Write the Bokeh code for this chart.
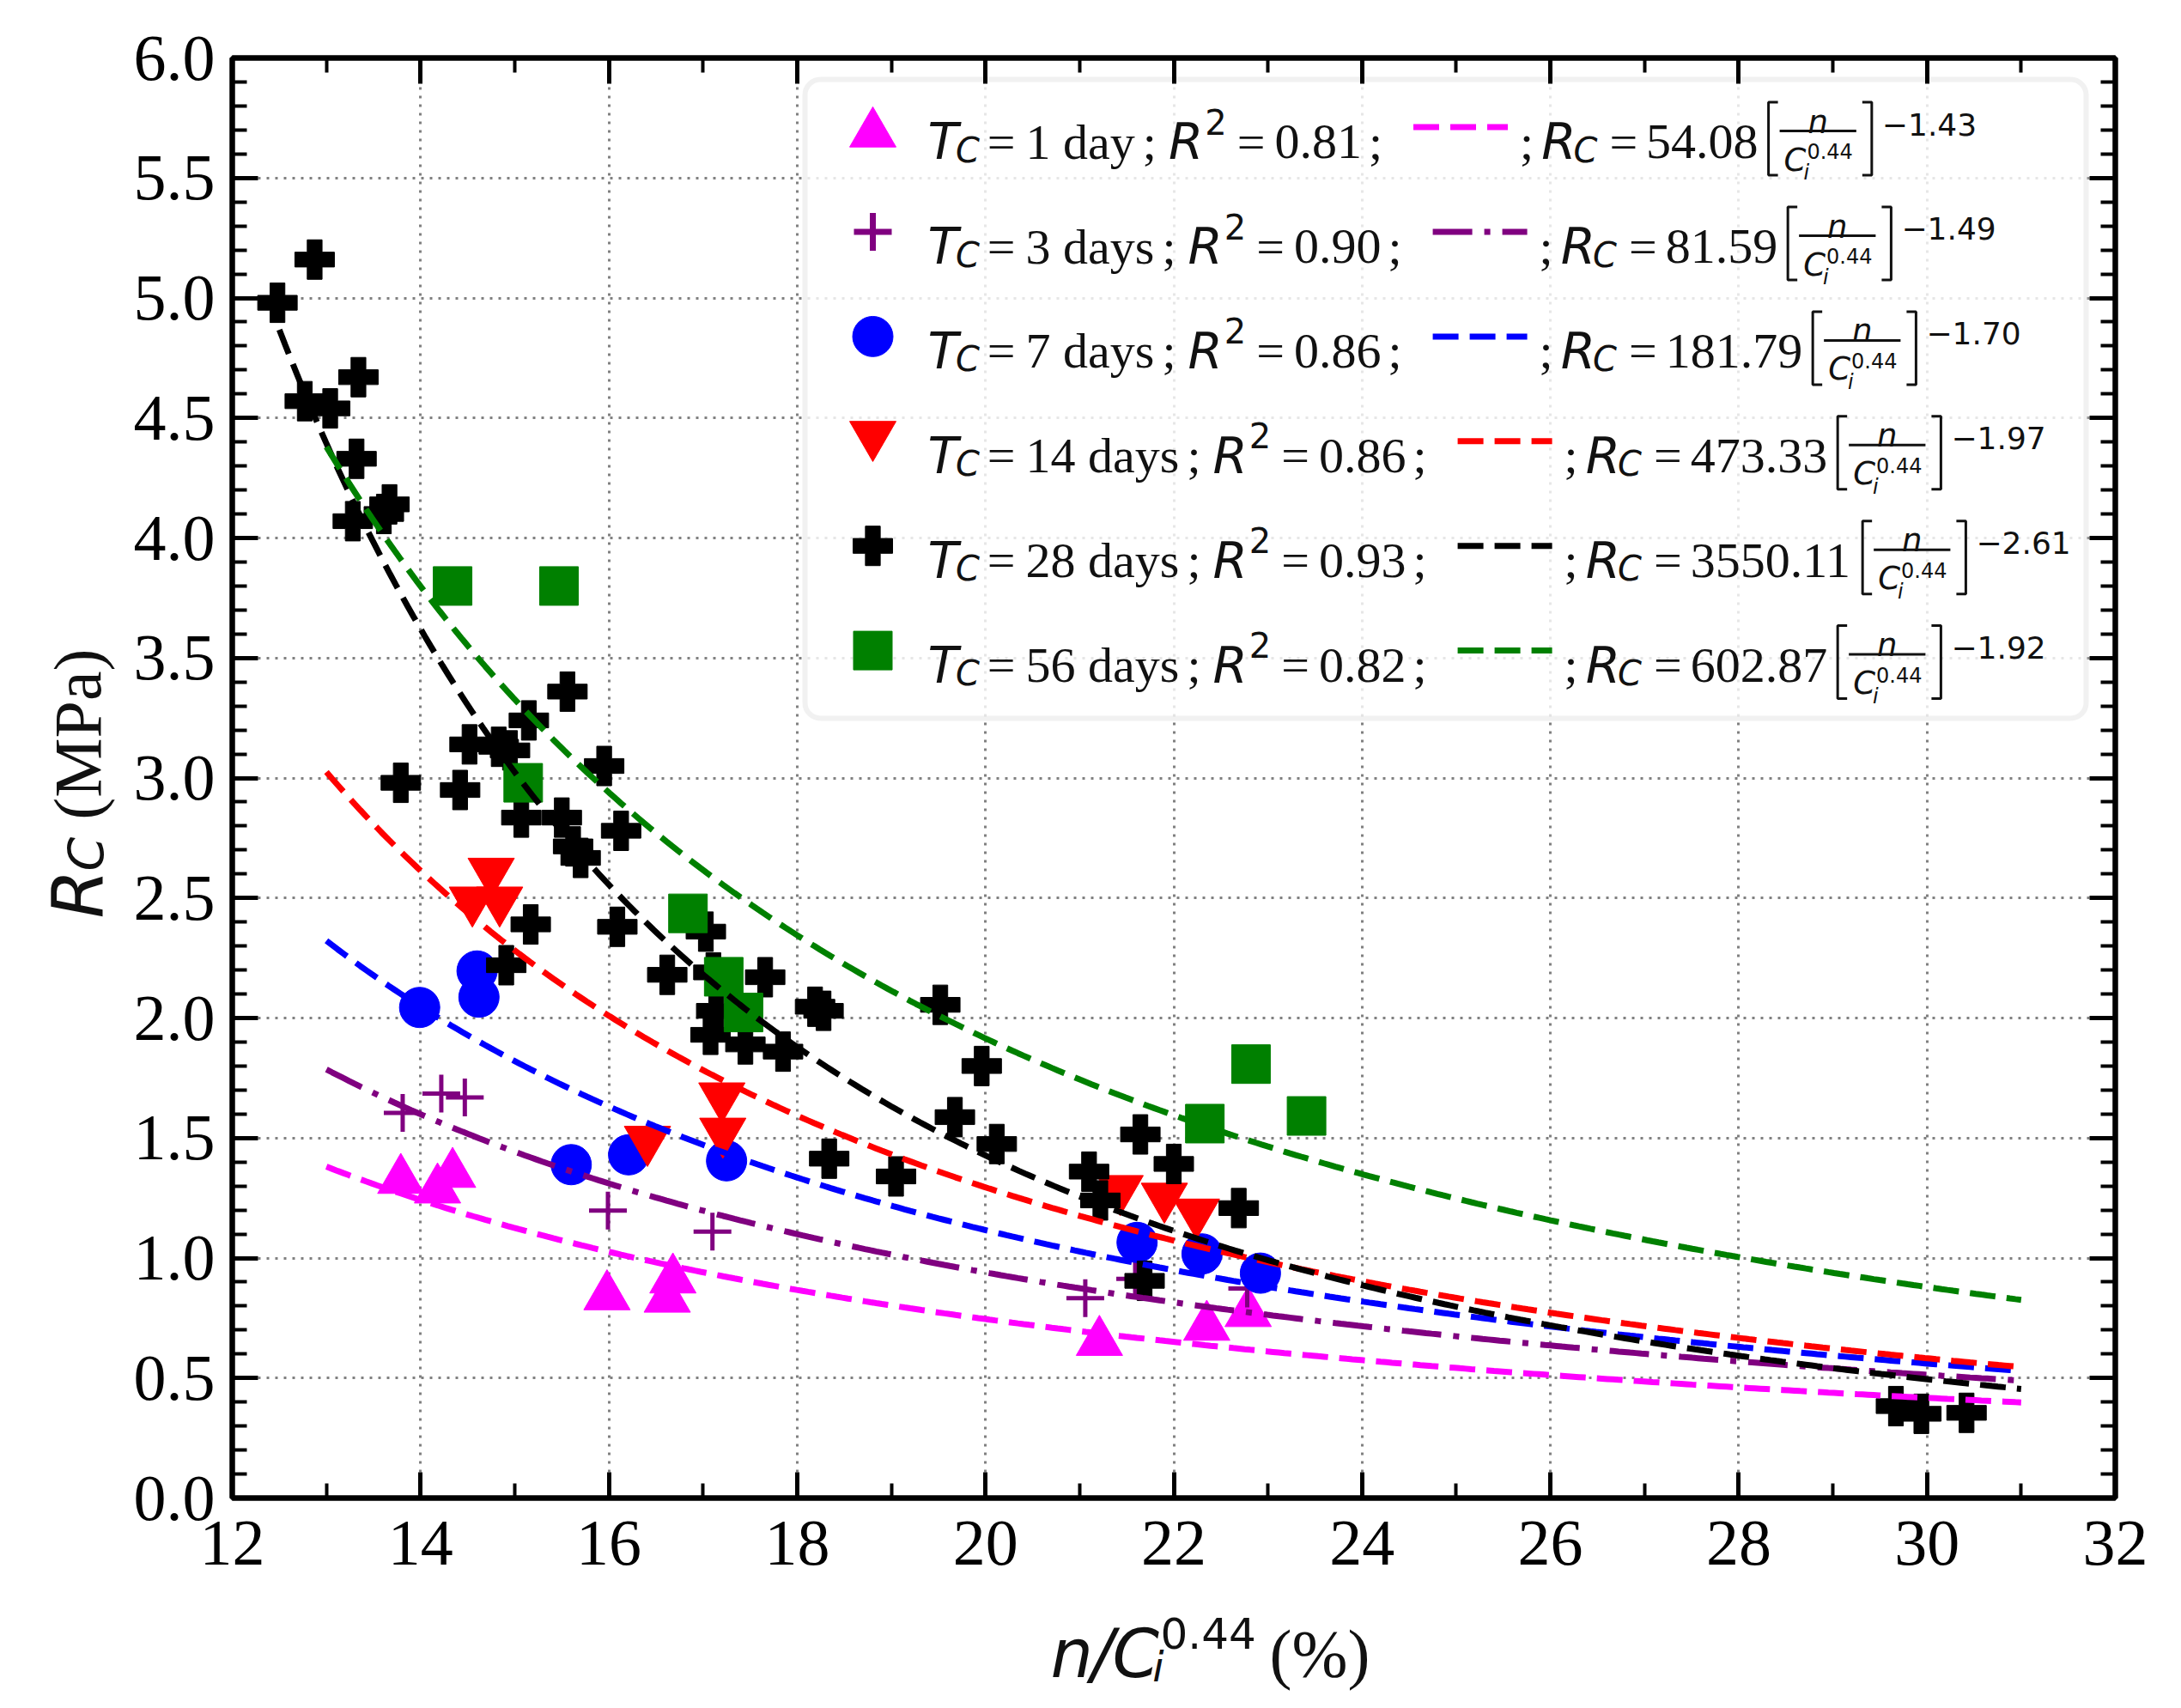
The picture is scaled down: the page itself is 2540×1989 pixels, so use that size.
import numpy as np
from bokeh.plotting import figure
from bokeh.layouts import row, column
from bokeh.models import (ColumnDataSource, BoxAnnotation, LinearAxis, Range1d,
                          SingleIntervalTicker, PrintfTickFormatter, CustomJSTickFormatter)
from bokeh.core.properties import value
from bokeh.embed import file_html
from bokeh.resources import INLINE

# ---------------------------------------------------------------
# Data
# ---------------------------------------------------------------
age_days = [1, 3, 7, 14, 28, 56]
age_text = ["1 day", "3 days", "7 days", "14 days", "28 days", "56 days"]
r2_text = ["0.81", "0.90", "0.86", "0.86", "0.93", "0.82"]
fit_a = [54.08, 81.59, 181.79, 473.33, 3550.11, 602.87]
fit_b = [-1.43, -1.49, -1.70, -1.97, -2.61, -1.92]
fit_x_start = [13.0, 13.0, 13.0, 13.0, 12.5, 13.0]
fit_x_end = [31.0, 31.0, 31.0, 31.0, 31.0, 31.0]

x_1d = [13.79, 14.18, 14.34, 15.98, 16.62, 16.68, 21.21, 22.35, 22.79]
y_1d = [1.325, 1.285, 1.35, 0.84, 0.83, 0.91, 0.65, 0.713, 0.77]

x_3d = [13.81, 14.22, 14.47, 15.99, 17.10, 21.06, 21.59, 22.78]
y_3d = [1.605, 1.685, 1.669, 1.198, 1.11, 0.833, 0.913, 0.873]

x_7d = [13.99, 14.60, 14.62, 15.60, 16.21, 17.25, 21.61, 22.30, 22.92]
y_7d = [2.044, 2.196, 2.087, 1.389, 1.43, 1.405, 1.065, 1.017, 0.937]

x_14d = [14.55, 14.75, 14.84, 16.41, 17.20, 17.21, 21.43, 21.90, 22.24]
y_14d = [2.49, 2.61, 2.49, 1.493, 1.674, 1.527, 1.288, 1.256, 1.19]

x_28d = [12.48, 12.875, 13.34, 12.77, 13.04, 13.32, 13.28, 13.61, 13.67,
         15.56, 15.15, 14.52, 14.83, 14.95, 15.95, 13.79, 14.42,
         15.07, 15.50, 16.13, 15.62, 15.70, 15.17, 16.09, 14.91,
         17.03, 16.62, 17.66, 17.11, 17.14, 17.08, 17.45, 17.85,
         18.19, 18.28, 19.52, 19.96, 19.675, 20.12, 18.34, 19.05,
         21.10, 21.22, 21.645, 22.00, 22.69, 21.69,
         29.67, 29.94, 30.42]
y_28d = [4.98, 5.16, 4.67, 4.57, 4.54, 4.33, 4.07, 4.10, 4.14,
         3.36, 3.24, 3.14, 3.13, 3.115, 3.05, 2.98, 2.95,
         2.835, 2.835, 2.78, 2.715, 2.667, 2.39, 2.38, 2.22,
         2.36, 2.18, 2.17, 2.19, 2.03, 1.93, 1.89, 1.86,
         2.047, 2.03, 2.055, 1.80, 1.587, 1.475, 1.414, 1.34,
         1.36, 1.24, 1.515, 1.392, 1.208, 0.905,
         0.383, 0.351, 0.355]

x_56d = [14.34, 15.47, 15.09, 16.84, 17.22, 17.43, 22.82, 22.33, 23.41]
y_56d = [3.80, 3.80, 2.98, 2.436, 2.172, 2.023, 1.808, 1.56, 1.592]

series_x = [x_1d, x_3d, x_7d, x_14d, x_28d, x_56d]
series_y = [y_1d, y_3d, y_7d, y_14d, y_28d, y_56d]

# ---------------------------------------------------------------
# Styles
# ---------------------------------------------------------------
colors = ["#ff00ff", "#800080", "#0000ff", "#ff0000", "#000000", "#008000"]
markers = ["triangle", "cross", "circle", "inverted_triangle", "plus", "square"]
msizes = [54, 44, 47, 54, 46, 45]
dashes = ["30 13", "46 14 7 14", "30 13", "30 13", "30 13", "30 13"]
TXT = "#111111"

# page geometry (pixels from the page top-left, 8px margin included)
PAGE_W, PAGE_H = 2518, 1973
YT_W = 150                      # strip for the y title
MAIN_W = PAGE_W - YT_W
XT_TOP = 1862                   # page y where the x-title strip starts
MAIN_H = XT_TOP - 8
XT_H = PAGE_H + 8 - XT_TOP

FL, FT, FW, FH = 278, 75, 2193, 1677
X0, X1, Y0, Y1 = 12, 32, 0, 6


def dx(px):
    return X0 + (px - FL) / FW * (X1 - X0)


def dy(py):
    return Y0 + (FT + FH - py) / FH * (Y1 - Y0)


SANS_W = {"T": 0.611, "C": 0.698, "R": 0.695, "n": 0.634, "i": 0.278, "/": 0.337,
          ".": 0.318, "\u2212": 0.838, "=": 0.838}
SERIF_W = {".": 0.25, " ": 0.25, ";": 0.278, "a": 0.444, "d": 0.5, "y": 0.5, "s": 0.389,
           "=": 0.564, "(": 0.333, ")": 0.333, "%": 0.833, "M": 0.889, "P": 0.556}


def tw(s, fam, size):
    table = SANS_W if fam != "serif" else SERIF_W
    dflt = 0.636 if fam != "serif" else 0.5
    return sum(table.get(c, dflt) for c in s) * size


FONTS = {"serif": ("Liberation Serif", "normal"),
         "sansi": ("DejaVu Sans", "italic"),
         "sans": ("DejaVu Sans", "normal")}


def new_pieces():
    return {k: dict(x=[], y=[], text=[], size=[], angle=[]) for k in FONTS}


def draw_pieces(fig, pcs):
    for fam, d in pcs.items():
        if not d["text"]:
            continue
        fig.text(x="x", y="y", text="text", angle="angle", source=ColumnDataSource(d),
                 text_font=value(FONTS[fam][0]), text_font_style=FONTS[fam][1],
                 text_font_size="size", text_color=TXT,
                 text_baseline="alphabetic", text_align="left")


# ---------------------------------------------------------------
# Main plot
# ---------------------------------------------------------------
p = figure(width=MAIN_W, height=MAIN_H, x_range=Range1d(X0, X1), y_range=Range1d(Y0, Y1),
           output_backend="svg", toolbar_location=None,
           min_border_left=FL - 8 - YT_W, min_border_right=PAGE_W + 8 - FL - FW,
           min_border_top=FT - 8, min_border_bottom=MAIN_H - (FT - 8) - FH)
p.background_fill_color = "white"
p.border_fill_color = "white"
p.outline_line_color = "black"
p.outline_line_width = 6

xt = SingleIntervalTicker(interval=2, num_minor_ticks=2)
yt = SingleIntervalTicker(interval=0.5, num_minor_ticks=5)
p.xaxis.ticker = xt
p.yaxis.ticker = yt
p.xgrid.ticker = xt
p.ygrid.ticker = yt
p.yaxis.formatter = PrintfTickFormatter(format="%.1f")

for g in (p.xgrid, p.ygrid):
    g.grid_line_color = "#808080"
    g.grid_line_width = 3
    g.grid_line_dash = "3 7"


def style_axis(ax):
    ax.axis_line_width = 6
    ax.axis_line_color = "black"
    ax.major_tick_in = 30
    ax.major_tick_out = 0
    ax.minor_tick_in = 17
    ax.minor_tick_out = 0
    ax.major_tick_line_width = 5
    ax.minor_tick_line_width = 4
    ax.major_tick_line_color = "black"
    ax.minor_tick_line_color = "black"
    ax.major_label_text_font = "Liberation Serif"
    ax.major_label_text_font_size = "76px"
    ax.major_label_text_color = "black"
    ax.axis_label = None


style_axis(p.xaxis[0])
style_axis(p.yaxis[0])
p.xaxis.major_label_standoff = 27
p.yaxis.major_label_standoff = 20

blank = CustomJSTickFormatter(code="return ''")
top_ax = LinearAxis(ticker=xt, formatter=blank)
right_ax = LinearAxis(ticker=yt, formatter=blank)
for ax in (top_ax, right_ax):
    style_axis(ax)
    ax.major_label_standoff = 0
    ax.major_label_text_font_size = "2px"
p.add_layout(top_ax, "above")
p.add_layout(right_ax, "right")

# data points
for i in range(6):
    if markers[i] == "cross":
        p.scatter(series_x[i], series_y[i], marker="cross", size=msizes[i],
                  line_color=colors[i], line_width=5)
    else:
        p.scatter(series_x[i], series_y[i], marker=markers[i], size=msizes[i],
                  fill_color=colors[i], line_color=colors[i], line_width=1)

# fitted power laws R_C = a * x^b, from the coefficients printed in the legend
for i in range(6):
    xs = np.linspace(fit_x_start[i], fit_x_end[i], 300)
    ys = fit_a[i] * xs ** fit_b[i]
    p.line(xs, ys, line_color=colors[i], line_width=7, line_dash=dashes[i])

# ---------------------------------------------------------------
# Legend (drawn piece by piece to keep the math layout)
# ---------------------------------------------------------------
legend_box = BoxAnnotation(left=dx(945), right=dx(2437), top=dy(100), bottom=dy(844),
                           fill_color="white", fill_alpha=0.8, line_color="#cfcfcf",
                           line_width=6, border_radius=18, level="underlay")
p.add_layout(legend_box)

lp = new_pieces()


def put(pcs, fam, s, px, py, size, angle=0.0, conv=(dx, dy)):
    d = pcs[fam]
    d["x"].append(conv[0](px))
    d["y"].append(conv[1](py))
    d["text"].append(s)
    d["size"].append("%dpx" % size)
    d["angle"].append(angle)


bracket_xs, bracket_ys = [], []
MS, RS, SS = 58, 58, 40
FS, FSS = 37, 24
ROW0, ROWSTEP = 155.6, 121.9
tri_shift = {"triangle": 7.5, "inverted_triangle": -7.5}

for i in range(6):
    yc = ROW0 + ROWSTEP * i
    base = yc + 17
    my = yc + tri_shift.get(markers[i], 0)
    if markers[i] == "cross":
        p.scatter([dx(1024)], [dy(my)], marker="cross", size=msizes[i],
                  line_color=colors[i], line_width=7)
    else:
        p.scatter([dx(1024)], [dy(my)], marker=markers[i], size=msizes[i],
                  fill_color=colors[i], line_color=colors[i])
    x = 1088
    put(lp, "sansi", "T", x, base, MS); x += tw("T", "sans", MS)
    put(lp, "sansi", "C", x - 3, base + 9.5, SS); x += tw("C", "sans", SS) - 3
    x += 9
    put(lp, "serif", "=", x, base, RS); x += tw("=", "serif", RS)
    x += 12
    put(lp, "serif", age_text[i], x, base, RS); x += tw(age_text[i], "serif", RS)
    x += 9
    put(lp, "serif", ";", x, base, RS); x += tw(";", "serif", RS)
    x += 14
    put(lp, "sansi", "R", x, base, MS); x += tw("R", "sans", MS)
    put(lp, "sans", "2", x + 2, base - 23.5, SS); x += tw("2", "sans", SS) + 2
    x += 12
    put(lp, "serif", "=", x, base, RS); x += tw("=", "serif", RS)
    x += 11
    put(lp, "serif", r2_text[i], x, base, RS); x += tw(r2_text[i], "serif", RS)
    x += 8
    put(lp, "serif", ";", x, base, RS); x += tw(";", "serif", RS)
    x += 36
    p.line([dx(x), dx(x + 110)], [dy(yc), dy(yc)], line_color=colors[i], line_width=7,
           line_dash=dashes[i])
    x += 110 + 14
    put(lp, "serif", ";", x, base, RS); x += tw(";", "serif", RS)
    x += 9
    put(lp, "sansi", "R", x, base, MS); x += tw("R", "sans", MS)
    put(lp, "sansi", "C", x - 3, base + 9.5, SS); x += tw("C", "sans", SS) - 3
    x += 14
    put(lp, "serif", "=", x, base, RS); x += tw("=", "serif", RS)
    x += 10
    coef = "%.2f" % fit_a[i]
    put(lp, "serif", coef, x, base, RS); x += tw(coef, "serif", RS)
    x += 10
    # bracketed fraction n / C_i^0.44
    L = x
    den_w = tw("C", "sans", FS) + tw("0.44", "sans", FSS)
    bw = den_w + 10
    b0, b1 = L + 15, L + 15 + bw
    top, bot = yc - 29, yc + 56
    bracket_xs.append([dx(L + 13), dx(L + 2), dx(L + 2), dx(L + 13)])
    bracket_ys.append([dy(top), dy(top), dy(bot), dy(bot)])
    bracket_xs.append([dx(b1 + 7), dx(b1 + 18), dx(b1 + 18), dx(b1 + 7)])
    bracket_ys.append([dy(top), dy(top), dy(bot), dy(bot)])
    bracket_xs.append([dx(b0), dx(b1)])
    bracket_ys.append([dy(yc + 4.5), dy(yc + 4.5)])
    cx = (b0 + b1) / 2
    put(lp, "sansi", "n", cx - tw("n", "sans", FS) / 2, yc - 6, FS)
    d0 = cx - den_w / 2
    put(lp, "sansi", "C", d0, yc + 38, FS)
    cend = d0 + tw("C", "sans", FS)
    put(lp, "sansi", "i", cend - 3, yc + 53, FSS)
    put(lp, "sans", "0.44", cend + 1, yc + 28, FSS)
    x = b1 + 30
    expo = "\u2212%.2f" % abs(fit_b[i])
    put(lp, "sans", expo, x, yc - 3.6, 36)

p.multi_line(bracket_xs, bracket_ys, line_color=TXT, line_width=3)
draw_pieces(p, lp)


# ---------------------------------------------------------------
# Axis titles in their own strips (page pixel coordinates)
# ---------------------------------------------------------------
def strip(w, h):
    f = figure(width=w, height=h, x_range=Range1d(0, w), y_range=Range1d(0, h),
               x_axis_type=None, y_axis_type=None, output_backend="svg",
               toolbar_location=None, min_border=0)
    f.outline_line_color = None
    f.background_fill_color = "white"
    f.border_fill_color = "white"
    return f


# y title: R_C (MPa), rotated, on the left strip
yfig = strip(YT_W, PAGE_H)
yconv = (lambda px: px - 8, lambda py: PAGE_H - (py - 8))
yp = new_pieces()
ang = np.pi / 2
yb = 98
y = 1077
put(yp, "sansi", "R", yb, y, 82, ang, yconv); y -= tw("R", "sans", 82)
put(yp, "sansi", "C", yb + 10, y + 2, 57, ang, yconv); y -= tw("C", "sans", 57) - 2
put(yp, "serif", "(MPa)", yb, y - 20, 78, ang, yconv)
draw_pieces(yfig, yp)

# x title: n/C_i^0.44 (%), below the main plot
xfig = strip(MAIN_W, XT_H)
xconv = (lambda px: px - 8 - YT_W, lambda py: XT_H - (py - XT_TOP))
xp = new_pieces()
xb = 1933
x = 1187
put(xp, "sansi", "n", x, xb, 78, 0.0, xconv); x += tw("n", "sans", 78) + 2
put(xp, "sansi", "/", x, xb, 78, 0.0, xconv); x += tw("/", "sans", 78)
put(xp, "sansi", "C", x, xb, 78, 0.0, xconv); x += tw("C", "sans", 78)
put(xp, "sansi", "i", x - 4, xb + 15, 48, 0.0, xconv)
put(xp, "sans", "0.44", x + 6, xb - 24, 50, 0.0, xconv); x += 6 + tw("0.44", "sans", 50)
put(xp, "serif", "(%)", x + 26, xb, 78, 0.0, xconv)
draw_pieces(xfig, xp)

layout = row(yfig, column(p, xfig, spacing=0), spacing=0)

open("out.html", "w").write(file_html(layout, INLINE))
